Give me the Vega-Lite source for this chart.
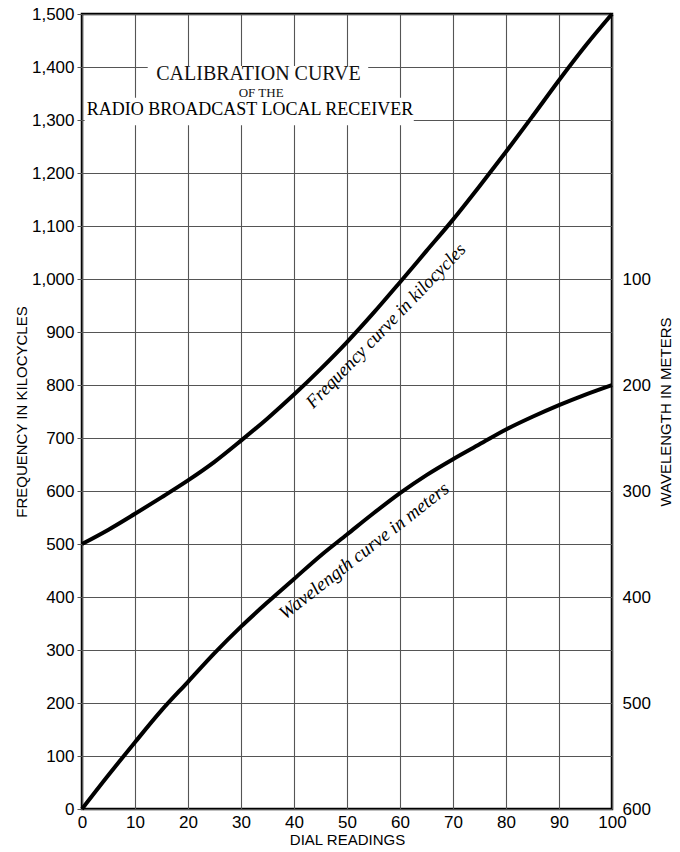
{
  "$schema": "https://vega.github.io/schema/vega-lite/v6.json",
  "width": 530,
  "height": 795,
  "autosize": "none",
  "padding": {"left": 82, "top": 14, "right": 68, "bottom": 43},
  "background": "white",
  "config": {
    "view": {"stroke": "black", "strokeWidth": 2.5},
    "font": "Liberation Sans",
    "axis": {"labelColor": "black", "titleColor": "black", "labelFont": "Liberation Sans", "titleFont": "Liberation Sans", "titleFontWeight": "normal", "domain": false},
    "axisX": {"grid": true, "gridColor": "#555555", "gridWidth": 1.1, "ticks": false, "tickCount": 10, "labelFontSize": 17, "labelPadding": 5, "labelFlush": false, "titleFontSize": 15, "titlePadding": 2},
    "axisLeft": {"grid": true, "gridColor": "#555555", "gridWidth": 1.1, "ticks": true, "tickSize": 5, "tickColor": "#555555", "tickCount": 15, "labelFontSize": 17, "labelPadding": 3, "titleFontSize": 15, "titlePadding": 2},
    "axisRight": {"grid": false, "ticks": false, "labelFontSize": 17, "labelPadding": 10, "titleFontSize": 15, "titlePadding": 8, "titleAngle": 270, "titleBaseline": "top"}
  },
  "datasets": {
    "curves": [
      {"dial": 0, "frequency": 500, "wavelength": 600},
      {"dial": 5, "frequency": 527, "wavelength": 568},
      {"dial": 10, "frequency": 557, "wavelength": 537},
      {"dial": 15, "frequency": 588, "wavelength": 507},
      {"dial": 20, "frequency": 620, "wavelength": 480},
      {"dial": 25, "frequency": 655, "wavelength": 453},
      {"dial": 30, "frequency": 695, "wavelength": 428},
      {"dial": 35, "frequency": 737, "wavelength": 405},
      {"dial": 40, "frequency": 782, "wavelength": 383},
      {"dial": 45, "frequency": 830, "wavelength": 361},
      {"dial": 50, "frequency": 881, "wavelength": 341},
      {"dial": 55, "frequency": 936, "wavelength": 321},
      {"dial": 60, "frequency": 994, "wavelength": 302},
      {"dial": 65, "frequency": 1053, "wavelength": 285},
      {"dial": 70, "frequency": 1112, "wavelength": 270},
      {"dial": 75, "frequency": 1175, "wavelength": 256},
      {"dial": 80, "frequency": 1240, "wavelength": 242},
      {"dial": 85, "frequency": 1307, "wavelength": 230},
      {"dial": 90, "frequency": 1375, "wavelength": 219},
      {"dial": 95, "frequency": 1440, "wavelength": 209},
      {"dial": 100, "frequency": 1500, "wavelength": 200}
    ]
  },
  "layer": [
    {
      "data": {"name": "curves"},
      "mark": {"type": "line", "color": "black", "strokeWidth": 4, "interpolate": "monotone"},
      "encoding": {
        "x": {"field": "dial", "type": "quantitative", "title": "DIAL READINGS", "scale": {"domain": [0, 100], "nice": false}},
        "y": {"field": "frequency", "type": "quantitative", "title": "FREQUENCY IN KILOCYCLES", "scale": {"domain": [0, 1500], "nice": false}, "axis": {"orient": "left", "format": ",d"}}
      }
    },
    {
      "data": {"values": [
        {"dial": 12.4, "dial2": 54, "frequency": 1341, "frequency2": 1402},
        {"dial": 0.5, "dial2": 62.6, "frequency": 1290, "frequency2": 1342}
      ]},
      "mark": {"type": "rect", "fill": "white"},
      "encoding": {
        "x": {"field": "dial", "type": "quantitative", "title": "DIAL READINGS", "scale": {"domain": [0, 100], "nice": false}},
        "x2": {"field": "dial2"},
        "y": {"field": "frequency", "type": "quantitative", "scale": {"domain": [0, 1500], "nice": false}, "axis": null},
        "y2": {"field": "frequency2"}
      }
    },
    {
      "data": {"values": [{"dial": 33.3, "frequency": 1375.5, "label": "CALIBRATION CURVE"}]},
      "mark": {"type": "text", "font": "Liberation Serif", "fontSize": 20, "align": "center", "baseline": "alphabetic", "color": "#111111"},
      "encoding": {
        "x": {"field": "dial", "type": "quantitative", "title": "DIAL READINGS", "scale": {"domain": [0, 100], "nice": false}},
        "y": {"field": "frequency", "type": "quantitative", "scale": {"domain": [0, 1500], "nice": false}, "axis": null},
        "text": {"field": "label"}
      }
    },
    {
      "data": {"values": [{"dial": 33.8, "frequency": 1343.4, "label": "OF THE"}]},
      "mark": {"type": "text", "font": "Liberation Serif", "fontSize": 13, "align": "center", "baseline": "alphabetic", "color": "#111111"},
      "encoding": {
        "x": {"field": "dial", "type": "quantitative", "title": "DIAL READINGS", "scale": {"domain": [0, 100], "nice": false}},
        "y": {"field": "frequency", "type": "quantitative", "scale": {"domain": [0, 1500], "nice": false}, "axis": null},
        "text": {"field": "label"}
      }
    },
    {
      "data": {"values": [{"dial": 31.7, "frequency": 1309.4, "label": "RADIO BROADCAST LOCAL RECEIVER"}]},
      "mark": {"type": "text", "font": "Liberation Serif", "fontSize": 18, "align": "center", "baseline": "alphabetic", "color": "#000000"},
      "encoding": {
        "x": {"field": "dial", "type": "quantitative", "title": "DIAL READINGS", "scale": {"domain": [0, 100], "nice": false}},
        "y": {"field": "frequency", "type": "quantitative", "scale": {"domain": [0, 1500], "nice": false}, "axis": null},
        "text": {"field": "label"}
      }
    },
    {
      "data": {"values": [{"dial": 57.3, "frequency": 912, "label": "Frequency curve in kilocycles"}]},
      "mark": {"type": "text", "font": "Liberation Serif", "fontStyle": "italic", "fontSize": 18.5, "angle": -46, "align": "center", "baseline": "middle", "color": "#000000"},
      "encoding": {
        "x": {"field": "dial", "type": "quantitative", "title": "DIAL READINGS", "scale": {"domain": [0, 100], "nice": false}},
        "y": {"field": "frequency", "type": "quantitative", "scale": {"domain": [0, 1500], "nice": false}, "axis": null},
        "text": {"field": "label"}
      }
    },
    {
      "data": {"values": [{"dial": 53.2, "frequency": 487, "label": "Wavelength curve in meters"}]},
      "mark": {"type": "text", "font": "Liberation Serif", "fontStyle": "italic", "fontSize": 19, "angle": -38, "align": "center", "baseline": "middle", "color": "#000000"},
      "encoding": {
        "x": {"field": "dial", "type": "quantitative", "title": "DIAL READINGS", "scale": {"domain": [0, 100], "nice": false}},
        "y": {"field": "frequency", "type": "quantitative", "scale": {"domain": [0, 1500], "nice": false}, "axis": null},
        "text": {"field": "label"}
      }
    },
    {
      "data": {"name": "curves"},
      "mark": {"type": "line", "color": "black", "strokeWidth": 4, "interpolate": "monotone"},
      "encoding": {
        "x": {"field": "dial", "type": "quantitative", "title": "DIAL READINGS", "scale": {"domain": [0, 100], "nice": false}},
        "y": {"field": "wavelength", "type": "quantitative", "title": "WAVELENGTH IN METERS", "scale": {"domain": [600, -150], "nice": false, "zero": false}, "axis": {"orient": "right", "values": [100, 200, 300, 400, 500, 600]}}
      }
    }
  ],
  "resolve": {"scale": {"y": "independent"}}
}
